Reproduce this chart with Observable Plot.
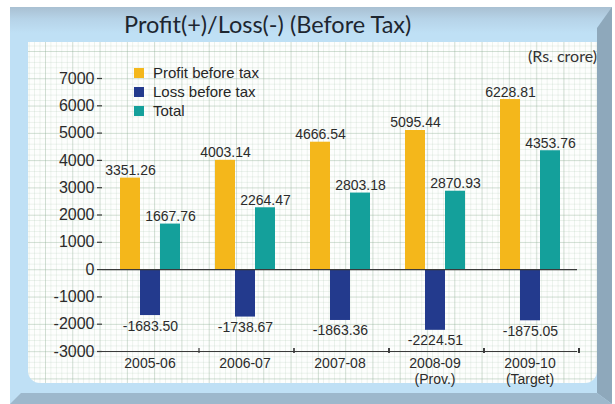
<!DOCTYPE html>
<html>
<head>
<meta charset="utf-8">
<script src="https://cdn.jsdelivr.net/npm/d3@7"></script>
<script src="https://cdn.jsdelivr.net/npm/@observablehq/plot@0.6"></script>
<style>
  html, body { margin: 0; padding: 0; background: #fff; }
  #card { position: relative; width: 615px; height: 404px; overflow: hidden; background: #fff; }
  .frame { position: absolute; left: 10px; top: 7px; width: 602px; height: 397px;
    background: linear-gradient(#a9c0d2 0px, #b6d3e8 12px, #bfe0f5 26px, #bfe0f5 100%); }
  .bevel-right { position: absolute; left: 597px; top: 7px; width: 15px; height: 397px; background: #8ea8bb;
    clip-path: polygon(0 21px, 100% 0, 100% 100%, 0 386px); }
  .bevel-bottom { position: absolute; left: 10px; top: 393px; width: 602px; height: 11px; background: #9db8cc;
    clip-path: polygon(0 100%, 11px 0, 587px 0, 100% 100%); }
  .paper { position: absolute; left: 28px; top: 42px; width: 569px; height: 341px;
    border-radius: 0 0 12px 12px; background-color: #fdfefd;
    background-image:
      linear-gradient(to right, rgba(140,170,145,0.28) 1px, transparent 1px),
      linear-gradient(to bottom, rgba(140,170,145,0.28) 1px, transparent 1px),
      linear-gradient(to right, rgba(160,190,165,0.2) 1px, transparent 1px),
      linear-gradient(to bottom, rgba(160,190,165,0.2) 1px, transparent 1px);
    background-size: 27.3px 27.3px, 27.3px 27.3px, 5.46px 5.46px, 5.46px 5.46px;
    background-position: 17px 9px, 17px 9px, 17px 9px, 17px 9px; }
  .title { position: absolute; left: 124px; top: 10px; white-space: nowrap;
    font-family: Lato, "Open Sans", sans-serif; font-size: 23.5px; color: #1d2630; }
  .unit { position: absolute; right: 18px; top: 46px; font-family: Lato, "Open Sans", sans-serif;
    font-size: 16px; color: #333; }
  .legend { position: absolute; left: 134px; top: 63px; font-family: "Liberation Sans", Arial, sans-serif;
    font-size: 15px; color: #262626; line-height: 19px; }
  .legend .sw { display: inline-block; width: 10px; height: 10px; margin-right: 9px; }
  #chart { position: absolute; left: 0; top: 0; }
</style>
</head>
<body>
<div id="card">
  <div class="frame"></div>
  <div class="bevel-right"></div>
  <div class="bevel-bottom"></div>
  <div class="paper"></div>
  <div class="title">Profit(+)/Loss(-) (Before Tax)</div>
  <div class="unit">(Rs. crore)</div>
  <div class="legend" id="legend"></div>
  <div id="chart"></div>
</div>
<script>
// Financial years and the note printed under some of them
const years = ["2005-06", "2006-07", "2007-08", "2008-09", "2009-10"];
const yearNotes = ["", "", "", "(Prov.)", "(Target)"];

// Series names and colours
const series = ["Profit before tax", "Loss before tax", "Total"];
const colors = ["#f4b71b", "#233a8d", "#14a09b"];

// Values in Rs. crore
const profit = [3351.26, 4003.14, 4666.54, 5095.44, 6228.81];
const loss = [-1683.50, -1738.67, -1863.36, -2224.51, -1875.05];
const total = [1667.76, 2264.47, 2803.18, 2870.93, 4353.76];

// Value axis ticks
const yTicks = [-3000, -2000, -1000, 0, 1000, 2000, 3000, 4000, 5000, 6000, 7000];

const rows = years.flatMap((year, i) => [
  {year, series: series[0], value: profit[i]},
  {year, series: series[1], value: loss[i]},
  {year, series: series[2], value: total[i]}
]);

// Legend
const legend = document.getElementById("legend");
series.forEach((s, i) => {
  const row = document.createElement("div");
  const sw = document.createElement("span");
  sw.className = "sw";
  sw.style.background = colors[i];
  row.appendChild(sw);
  row.appendChild(document.createTextNode(s));
  legend.appendChild(row);
});

// Small tick marks between the year groups on the category axis
function groupTicks(index, scales) {
  const fx = scales.fx;
  const bw = typeof fx.bandwidth === "function" ? fx.bandwidth() : scales.scales.fx.bandwidth;
  const y0 = scales.y(yTicks[0]);
  const g = d3.create("svg:g").attr("stroke", "#3a3a3a").attr("stroke-width", 1.2);
  years.forEach(yr => {
    const x = fx(yr) + bw;
    g.append("line").attr("x1", x).attr("x2", x).attr("y1", y0 - 3).attr("y2", y0 + 2);
  });
  return g.node();
}

const label = d => d.value.toFixed(2);

const chart = Plot.plot({
  width: 615,
  height: 404,
  marginLeft: 100,
  marginRight: 37,
  marginTop: 78,
  marginBottom: 53,
  style: {background: "transparent", fontFamily: "'Liberation Sans', Arial, sans-serif", color: "#2b2b2b", overflow: "visible"},
  fx: {domain: years, padding: 0, axis: null, label: null},
  x: {domain: series, paddingInner: 0.02, paddingOuter: 0.78, axis: null},
  y: {domain: [-3000, 7000], axis: null, label: null},
  color: {domain: series, range: colors},
  marks: [
    Plot.barY(rows, {fx: "year", x: "series", y: "value", fill: "series"}),
    Plot.ruleY([0, yTicks[0]], {stroke: "#3a3a3a", strokeWidth: 1.2}),
    Plot.text(rows.filter(d => d.value >= 0), {
      fx: "year", x: "series", y: "value", text: label,
      lineAnchor: "bottom", dy: -3, fontSize: 14, fill: "#2b2b2b"
    }),
    Plot.text(rows.filter(d => d.value < 0), {
      fx: "year", x: "series", y: "value", text: label,
      lineAnchor: "top", dy: 5, fontSize: 14, fill: "#2b2b2b"
    }),
    Plot.axisY(yTicks, {
      label: null, tickFormat: d => String(d), tickSize: 5, tickPadding: 3, fontSize: 16,
      line: true, stroke: "#3a3a3a", strokeWidth: 1.2, fill: "#2b2b2b"
    }),
    Plot.axisFx({
      label: null, anchor: "bottom", tickSize: 0, tickPadding: 5, fontSize: 14, lineHeight: 1.15, fill: "#2b2b2b",
      tickFormat: d => {
        const note = yearNotes[years.indexOf(d)];
        return note ? d + "\n" + note : d;
      }
    }),
    groupTicks
  ]
});

document.getElementById("chart").appendChild(chart);
</script>
</body>
</html>
